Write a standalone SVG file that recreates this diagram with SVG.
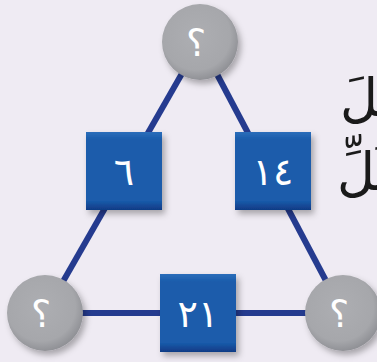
<svg xmlns="http://www.w3.org/2000/svg" width="377" height="362" viewBox="0 0 377 362">
<style>
.edge{stroke:#253b8f;stroke-width:6;fill:none}
.num{font-family:"DejaVu Sans",sans-serif;font-size:38px;fill:#ffffff;text-anchor:middle}
.q{font-family:"DejaVu Sans",sans-serif;font-size:38px;fill:#ffffff;text-anchor:middle}
.ar{font-family:"DejaVu Sans","Noto Sans",sans-serif;font-size:52px;fill:#1a1a1a}
</style>
<defs>
<radialGradient id="gc" cx="45%" cy="42%" r="60%">
<stop offset="0" stop-color="#adaeb2"/>
<stop offset="0.75" stop-color="#a6a7ab"/>
<stop offset="1" stop-color="#8d8e93"/>
</radialGradient>
<linearGradient id="gs" x1="0" y1="0" x2="0" y2="1">
<stop offset="0" stop-color="#2b6dba"/>
<stop offset="0.1" stop-color="#1a5cab"/>
<stop offset="0.88" stop-color="#1a5cab"/>
<stop offset="1" stop-color="#103a85"/>
</linearGradient>
<filter id="sh" x="-20%" y="-20%" width="150%" height="150%">
<feDropShadow dx="3" dy="4" stdDeviation="3" flood-color="#000" flood-opacity="0.3"/>
</filter>
</defs>
<rect width="377" height="362" fill="#efebf3"/>
<g id="connectors">
<line class="edge" x1="200" y1="42" x2="45" y2="313"/>
<line class="edge" x1="200" y1="42" x2="343" y2="313"/>
<line class="edge" x1="45" y1="313" x2="343" y2="313"/>
</g>
<g id="node-top">
<circle cx="200" cy="42" r="38" fill="url(#gc)" filter="url(#sh)"/>
<text class="q" x="196" y="56">؟</text>
</g>
<g id="node-left">
<circle cx="45" cy="313" r="38" fill="url(#gc)" filter="url(#sh)"/>
<text class="q" x="41" y="327">؟</text>
</g>
<g id="node-right">
<circle cx="343" cy="313" r="38" fill="url(#gc)" filter="url(#sh)"/>
<text class="q" x="339" y="327">؟</text>
</g>
<g id="sq-left">
<rect x="86" y="132" width="76" height="78" fill="url(#gs)" filter="url(#sh)"/>
<text class="num" x="124" y="185">٦</text>
</g>
<g id="sq-right">
<rect x="235" y="132" width="76" height="78" fill="url(#gs)" filter="url(#sh)"/>
<text class="num" x="273" y="185">١٤</text>
</g>
<g id="sq-bottom">
<rect x="160" y="274" width="76" height="78" fill="url(#gs)" filter="url(#sh)"/>
<text class="num" x="198" y="327">٢١</text>
</g>
<g id="label">
<text class="ar" x="340" y="116">ـملَ</text>
<text class="ar" x="337" y="190">كُلِّ</text>
</g>
</svg>
